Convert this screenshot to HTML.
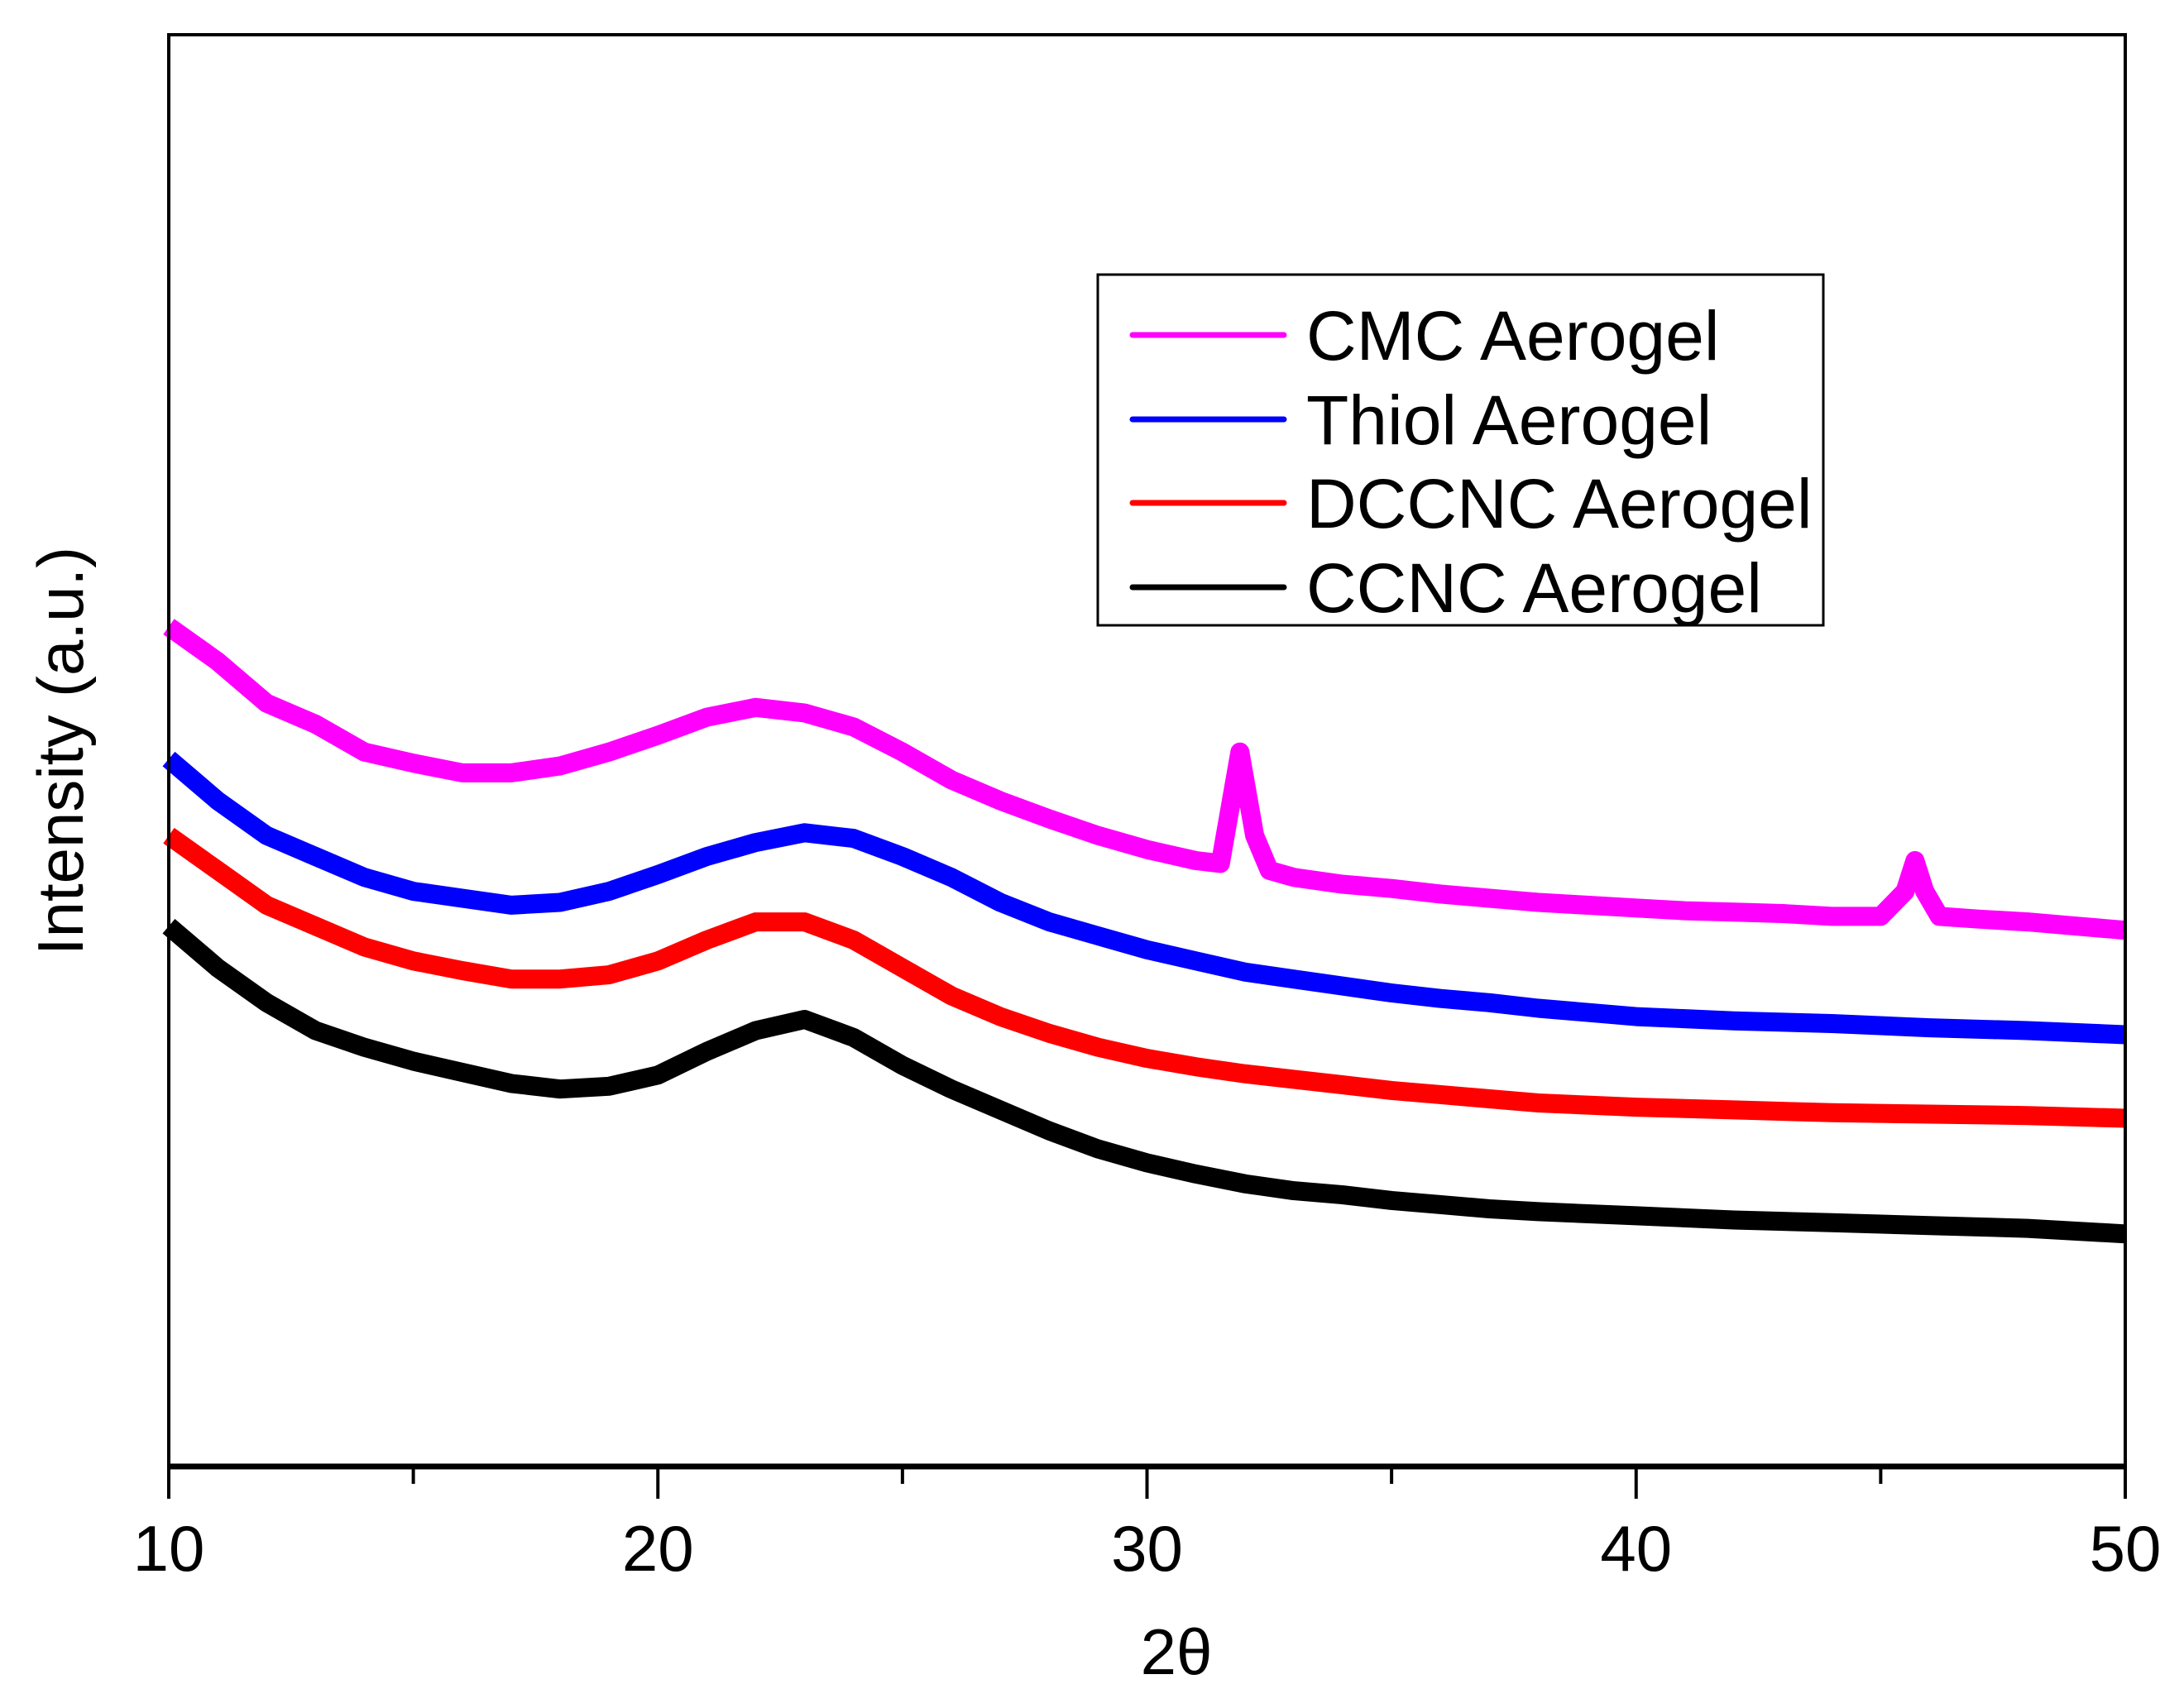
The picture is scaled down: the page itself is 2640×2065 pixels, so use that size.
<!DOCTYPE html>
<html><head><meta charset="utf-8"><style>
html,body{margin:0;padding:0;background:#fff;}
svg{display:block;font-family:"Liberation Sans",Arial,sans-serif;}
</style></head><body>
<svg id="chart" width="2640" height="2065" viewBox="0 0 2640 2065" xmlns="http://www.w3.org/2000/svg">
<rect width="2640" height="2065" fill="#fff"/>
<g id="series"></g>
<rect x="204" y="42" width="2365" height="1731" fill="none" stroke="#000" stroke-width="4"/>
<line x1="202" y1="1773" x2="2571" y2="1773" stroke="#000" stroke-width="7"/>
<g id="xticks"></g>
<text x="1422" y="2024" font-size="78" text-anchor="middle">2θ</text>
<text transform="translate(100,908) rotate(-90)" font-size="78" text-anchor="middle">Intensity (a.u.)</text>
<g>
<rect x="1327" y="332" width="877" height="424" fill="#fff" stroke="#000" stroke-width="3"/>
<g><line x1="1369" y1="405" x2="1552" y2="405" stroke="#ff00ff" stroke-width="7" stroke-linecap="round"/><text x="1579" y="435" font-size="84">CMC Aerogel</text></g>
<g><line x1="1369" y1="507" x2="1552" y2="507" stroke="#0000ff" stroke-width="7" stroke-linecap="round"/><text x="1579" y="537" font-size="84">Thiol Aerogel</text></g>
<g><line x1="1369" y1="608" x2="1552" y2="608" stroke="#ff0000" stroke-width="7" stroke-linecap="round"/><text x="1579" y="638" font-size="84">DCCNC Aerogel</text></g>
<g><line x1="1369" y1="710" x2="1552" y2="710" stroke="#000" stroke-width="7" stroke-linecap="round"/><text x="1579" y="740" font-size="84">CCNC Aerogel</text></g>
</g>
</svg>
<script>
const xTickLabels = [10, 20, 30, 40, 50];
const xMinorTicks = [15, 25, 35, 45];
const cmcX = [10,11,12,13,14,15,16,17,18,19,20,21,22,23,24,25,26,27,28,29,30,31,31.5,31.8,31.9,32.2,32.5,33,34,35,36,37,38,39,40,41,42,43,44,45,45.5,45.7,45.9,46.2,47,48,49,50];
const cmcY = [603,578,548,533,513,505,498,498,503,513,525,538,545,541,531,513,493,478,465,453,443,435,433,493,513,453,428,423,418,415,411,408,405,403,401,399,398,397,395,395,413,435,413,395,393,391,388,385];
const baseX = [10,11,12,13,14,15,16,17,18,19,20,21,22,23,24,25,26,27,28,29,30,31,32,33,34,35,36,37,38,40,42,44,46,48,50];
const thiolY = [508,478,453,438,423,413,408,403,405,413,425,438,448,455,451,438,423,405,391,381,371,363,355,350,345,340,336,333,329,323,320,318,315,313,310];
const dccncY = [453,428,403,388,373,363,356,350,350,353,363,378,391,391,378,358,338,323,311,301,293,287,282,278,274,270,267,264,261,258,256,254,253,252,250];
const ccncY = [388,358,333,313,301,291,283,275,271,273,281,298,313,321,308,288,271,256,241,228,218,210,203,198,195,191,188,185,183,180,177,175,173,171,167];

const NS = "http://www.w3.org/2000/svg";
const xs = v => 204 + (v - 10) / 40 * 2365;
const ys = v => 1773 - v / 1028 * 1731;

const sg = document.getElementById('series');
function drawSeries(xArr, yArr, color, name) {
  const p = document.createElementNS(NS, 'path');
  
  
  p.setAttribute('d', xArr.map((x, i) => (i ? 'L' : 'M') + xs(x).toFixed(1) + ' ' + ys(yArr[i]).toFixed(1)).join(' '));
  p.setAttribute('fill', 'none');
  p.setAttribute('stroke', color);
  p.setAttribute('stroke-width', '23');
  p.setAttribute('stroke-linejoin', 'round');
  sg.appendChild(p);
}
drawSeries(baseX, ccncY, '#000000', 'ccnc-series');
drawSeries(baseX, dccncY, '#ff0000', 'dccnc-series');
drawSeries(baseX, thiolY, '#0000ff', 'thiol-series');
drawSeries(cmcX, cmcY, '#ff00ff', 'cmc-series');

const tg = document.getElementById('xticks');
xTickLabels.forEach(v => {
  const l = document.createElementNS(NS, 'line');
  
  
  l.setAttribute('x1', xs(v)); l.setAttribute('x2', xs(v));
  l.setAttribute('y1', 1773); l.setAttribute('y2', 1812);
  l.setAttribute('stroke', '#000'); l.setAttribute('stroke-width', '4');
  tg.appendChild(l);
  const t = document.createElementNS(NS, 'text');
  
  
  t.setAttribute('x', xs(v)); t.setAttribute('y', 1899);
  t.setAttribute('font-size', '78'); t.setAttribute('text-anchor', 'middle');
  t.textContent = v;
  tg.appendChild(t);
});
xMinorTicks.forEach(v => {
  const l = document.createElementNS(NS, 'line');
  
  
  l.setAttribute('x1', xs(v)); l.setAttribute('x2', xs(v));
  l.setAttribute('y1', 1773); l.setAttribute('y2', 1794);
  l.setAttribute('stroke', '#000'); l.setAttribute('stroke-width', '4');
  tg.appendChild(l);
});
</script>
</body></html>
